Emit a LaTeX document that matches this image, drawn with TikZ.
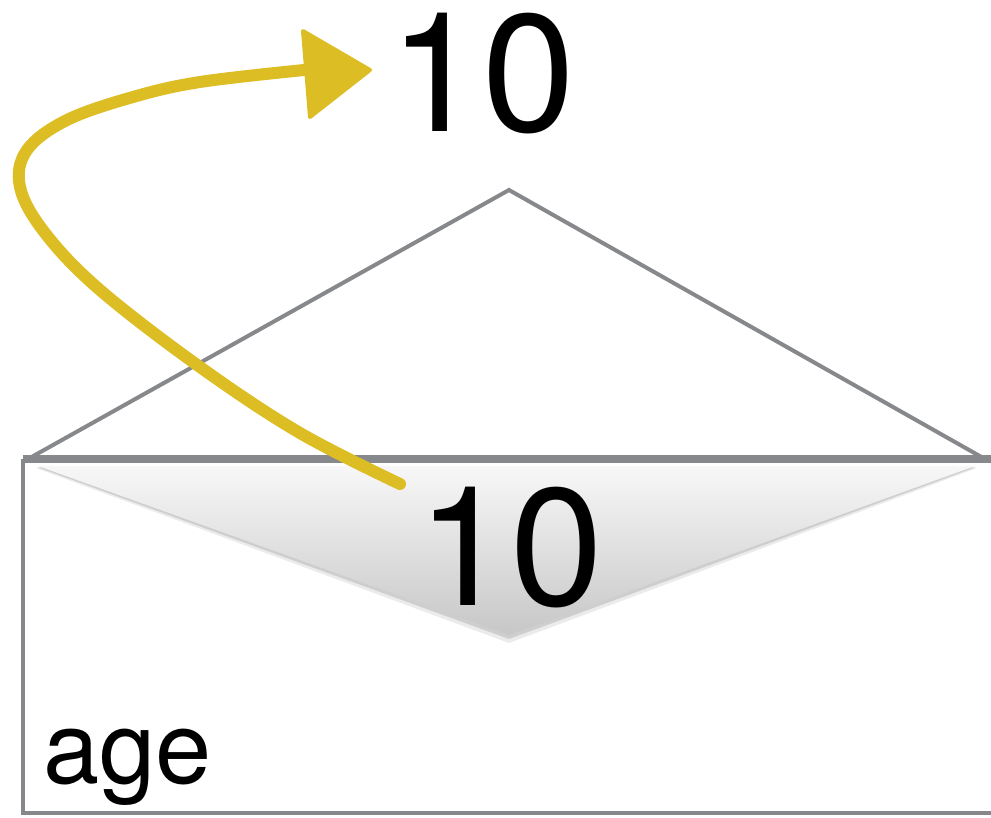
\documentclass[tikz,border=0pt]{standalone}
\usepackage{fontspec}
\setmainfont{TeX Gyre Heros}
\definecolor{envgray}{HTML}{86888B}
\definecolor{chalk}{HTML}{DCBD24}
\tikzset{
  envline/.style={draw=envgray, line width=4pt, line join=miter},
  bignum/.style={inner sep=0pt, anchor=base west, font=\fontsize{167}{167}\selectfont},
  labeltxt/.style={inner sep=0pt, anchor=base west, font=\fontsize{101}{101}\selectfont},
  chalkline/.style={draw=chalk, line width=12pt, line cap=round, line join=round},
  chalkhead/.style={fill=chalk, draw=chalk, line width=4pt, line join=round}
}
\begin{document}
\begin{tikzpicture}[x=1pt, y=-1pt]
\useasboundingbox (0,0) rectangle (991,817);
% open flap
\coordinate (flapL) at (28,459);
\coordinate (flapT) at (509,190);
\coordinate (flapR) at (985,459);
\draw[envline] (flapL) -- (flapT) -- (flapR);
% envelope body
\coordinate (bodyTL) at (23,459);
\coordinate (bodyBL) at (23,813);
\coordinate (bodyBR) at (1000,813);
\coordinate (bodyTR) at (1000,459);
\draw[envline] (bodyTL) -- (bodyBL) -- (bodyBR);
% inner flap (shadow + gradient)
\coordinate (vL) at (38,466);
\coordinate (vB) at (509,635);
\coordinate (vR) at (975,466);
\fill[black, opacity=0.08] (36,468) -- (509,643) -- (977,468) -- cycle;
\fill[black, opacity=0.12] (37,467) -- (509,639) -- (976,467) -- cycle;
\shade[top color=black!3, bottom color=black!22] (vL) -- (vB) -- (vR) -- cycle;
% thick top edge
\draw[draw=envgray, line width=8pt] (bodyTL) -- (bodyTR);
% texts
\node[bignum] (topval) at (389,131) {10};
\node[bignum] (boxval) at (417,605) {10};
\node[labeltxt] (name) at (43,783) {age};
% arrow
\coordinate (arrS) at (400,484);
\coordinate (arrE) at (304,70);
\draw[chalkline] plot[smooth, tension=0.6] coordinates {(arrS) (300,433) (200,367) (100,290) (45,233) (20,187) (27,150) (67,120) (133,97) (200,82) (arrE)};
\filldraw[chalkhead] (303,31) -- (370,70) -- (310,117) -- cycle;
\end{tikzpicture}
\end{document}
